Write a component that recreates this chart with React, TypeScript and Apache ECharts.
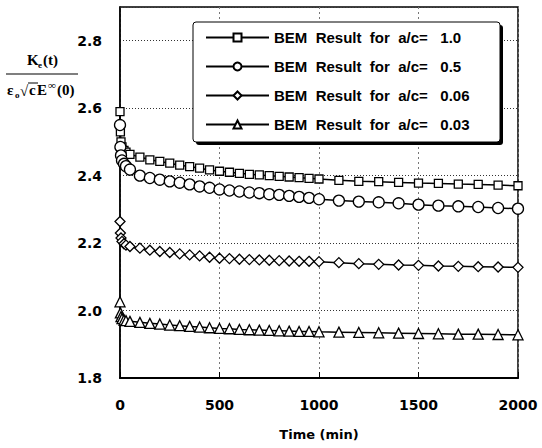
import React, { useEffect, useRef } from "react";
import * as echarts from "echarts";

const times = [0, 2, 5, 10, 20, 30, 50, 100, 150, 200, 250, 300, 350, 400, 450, 500, 550, 600, 650, 700, 750, 800, 850, 900, 950, 1000, 1100, 1200, 1300, 1400, 1500, 1600, 1700, 1800, 1900, 2000];
const ac10 = [2.59, 2.53, 2.5, 2.485, 2.475, 2.47, 2.463, 2.455, 2.447, 2.442, 2.437, 2.431, 2.427, 2.422, 2.417, 2.413, 2.41, 2.407, 2.404, 2.402, 2.4, 2.398, 2.396, 2.394, 2.392, 2.39, 2.386, 2.383, 2.382, 2.38, 2.378, 2.377, 2.375, 2.374, 2.372, 2.37];
const ac05 = [2.55, 2.485, 2.46, 2.445, 2.435, 2.428, 2.418, 2.4, 2.393, 2.388, 2.383, 2.379, 2.374, 2.368, 2.364, 2.359, 2.356, 2.353, 2.35, 2.348, 2.345, 2.343, 2.34, 2.337, 2.334, 2.33, 2.326, 2.323, 2.321, 2.318, 2.314, 2.311, 2.309, 2.307, 2.304, 2.302];
const ac006 = [2.264, 2.23, 2.215, 2.205, 2.198, 2.194, 2.19, 2.185, 2.179, 2.175, 2.172, 2.168, 2.165, 2.162, 2.158, 2.155, 2.154, 2.152, 2.151, 2.15, 2.149, 2.148, 2.147, 2.146, 2.146, 2.145, 2.142, 2.139, 2.137, 2.135, 2.134, 2.132, 2.131, 2.13, 2.129, 2.128];
const ac003 = [2.026, 1.993, 1.982, 1.976, 1.972, 1.97, 1.968, 1.965, 1.962, 1.96, 1.957, 1.955, 1.953, 1.951, 1.949, 1.947, 1.946, 1.944, 1.943, 1.942, 1.941, 1.94, 1.939, 1.938, 1.938, 1.937, 1.936, 1.935, 1.934, 1.933, 1.932, 1.931, 1.93, 1.93, 1.929, 1.928];

const seriesNames = [
  "BEM Result for a/c= 1.0",
  "BEM Result for a/c= 0.5",
  "BEM Result for a/c= 0.06",
  "BEM Result for a/c= 0.03",
];
const seriesValues = [ac10, ac05, ac006, ac003];
const symbols = ["rect", "circle", "diamond", "triangle"];
const symbolSizes = [8, 11, 10, 10];

const FONT = "DejaVu Sans";
const LFONT = "Liberation Sans";
const SERIF = "Liberation Serif";

export default function App() {
  const ref = useRef<HTMLDivElement>(null);
  useEffect(() => {
    if (!ref.current) return;
    const chart = echarts.init(ref.current, null, { renderer: "svg" });
    const series = seriesValues.map((vals, i) => ({
      name: seriesNames[i],
      type: "line",
      data: times.map((t, j) => [t, vals[j]]),
      symbol: symbols[i],
      symbolSize: symbolSizes[i],
      showAllSymbol: true,
      lineStyle: { color: "#000", width: 1.5 },
      itemStyle: { color: "#fff", borderColor: "#000", borderWidth: 1.3 },
      z: 3,
    }));
    const serifText = (text: string, x: number, y: number, size: number) => ({
      type: "text",
      x,
      y,
      z: 20,
      style: { text, fontFamily: SERIF, fontSize: size, fontWeight: "bold", fill: "#000", textVerticalAlign: "bottom" },
    });
    chart.setOption({
      animation: false,
      backgroundColor: "#fff",
      grid: { left: 120, right: 24, top: 7, bottom: 70, show: true, borderColor: "#000", borderWidth: 1.5, backgroundColor: "transparent" },
      xAxis: {
        type: "value",
        min: 0,
        max: 2000,
        interval: 500,
        name: "Time (min)",
        nameLocation: "middle",
        nameGap: 50,
        nameTextStyle: { fontFamily: FONT, fontWeight: "bold", fontSize: 13, color: "#000" },
        axisLine: { show: true, lineStyle: { color: "#000", width: 2 } },
        axisTick: { show: true, inside: true, length: 6, lineStyle: { color: "#000" } },
        axisLabel: { margin: 20, fontFamily: FONT, fontWeight: "bold", fontSize: 14, color: "#000", formatter: (v: number) => String(v) },
        splitLine: { show: true, lineStyle: { color: "#777", type: [2, 3], width: 1 } },
      },
      yAxis: {
        type: "value",
        min: 1.8,
        max: 2.9,
        interval: 0.2,
        axisLine: { show: true, lineStyle: { color: "#000", width: 1.5 } },
        axisTick: { show: false },
        axisLabel: { margin: 18, fontFamily: FONT, fontWeight: "bold", fontSize: 14, color: "#000", showMaxLabel: false, formatter: (v: number) => v.toFixed(1) },
        splitLine: { show: true, lineStyle: { color: "#333", type: [1, 2], width: 1 } },
      },
      legend: {
        orient: "vertical",
        left: 205,
        top: 30,
        padding: 0,
        itemWidth: 63,
        itemHeight: 10,
        itemGap: 14,
        z: 30,
        data: seriesNames,
        formatter: (name: string) => name.replace(/ (?=\d)/, "   ").replace(/ (?=[A-Za-z])/g, "  "),
        textStyle: { fontFamily: LFONT, fontWeight: "bold", fontSize: 15, color: "#000" },
      },
      graphic: [
        { type: "rect", z: 25, shape: { x: 196, y: 25, width: 307, height: 120, r: 3 }, style: { fill: "#000" } },
        { type: "rect", z: 26, shape: { x: 193, y: 22, width: 307, height: 120, r: 3 }, style: { fill: "#fff", stroke: "#000", lineWidth: 1 } },
        serifText("K", 27, 67, 15),
        serifText("e", 38, 69, 9),
        serifText("(t)", 43, 67, 15),
        { type: "line", z: 20, shape: { x1: 6, y1: 74, x2: 78, y2: 74 }, style: { stroke: "#000", lineWidth: 1.2 } },
        serifText("ε", 7, 97, 15),
        serifText("o", 15, 99, 9),
        serifText("√", 20, 98, 15),
        { type: "line", z: 20, shape: { x1: 28, y1: 83, x2: 38, y2: 83 }, style: { stroke: "#000", lineWidth: 1 } },
        serifText("c", 29, 97, 15),
        serifText("E", 37, 97, 15),
        serifText("∞", 48, 90, 11),
        serifText("(0)", 57, 97, 15),
      ],
      series,
    });
    return () => chart.dispose();
  }, []);
  return <div ref={ref} style={{ position: "absolute", left: 0, top: 0, width: 542, height: 448 }} />;
}
